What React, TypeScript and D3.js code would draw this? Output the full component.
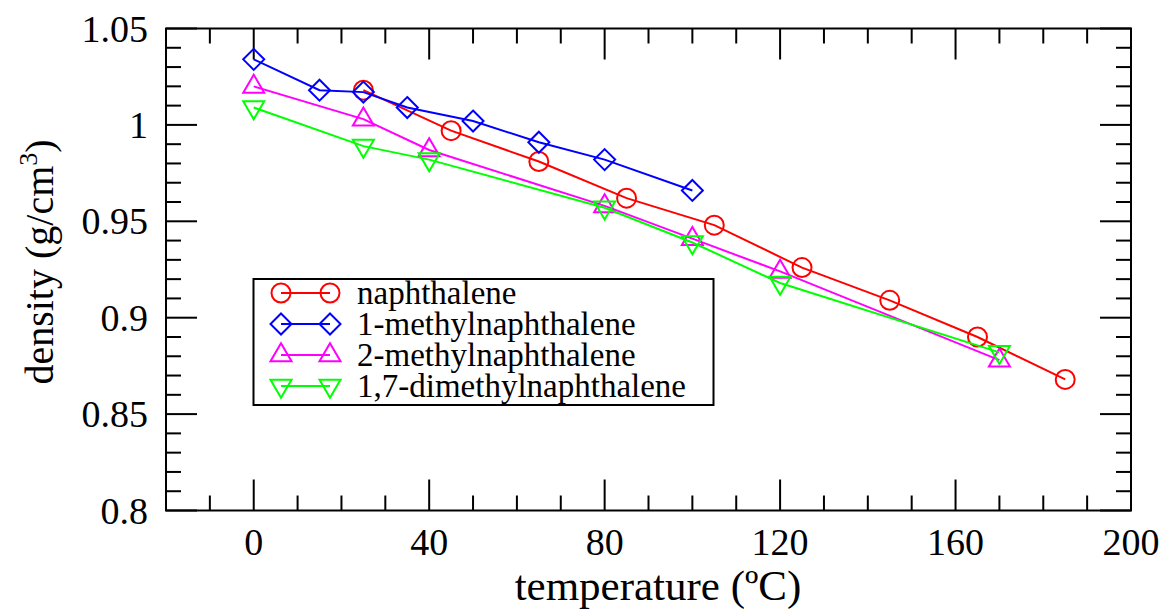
import React from "react";
import * as d3 from "d3";

// Density (g/cm³) of naphthalene and methylated naphthalenes vs temperature (°C)
const naphT = [25, 45, 65, 85, 105, 125, 145, 165, 185];
const naphD = [1.018, 0.997, 0.981, 0.962, 0.948, 0.926, 0.909, 0.890, 0.868];

const mn1T = [0, 15, 25, 35, 50, 65, 80, 100];
const mn1D = [1.034, 1.018, 1.017, 1.009, 1.002, 0.991, 0.982, 0.966];

const mn2T = [0, 25, 40, 80, 100, 120, 170];
const mn2D = [1.020, 1.003, 0.987, 0.958, 0.941, 0.924, 0.878];

const dmn17T = [0, 25, 40, 80, 100, 120, 170];
const dmn17D = [1.009, 0.989, 0.982, 0.957, 0.939, 0.918, 0.882];

const seriesNames = ["naphthalene", "1-methylnaphthalene", "2-methylnaphthalene", "1,7-dimethylnaphthalene"];
const seriesColors = ["#ff0000", "#0000ff", "#ff00ff", "#00ff00"];
const seriesSymbols = ["circle", "diamond", "triUp", "triDown"];

const xMajorTicks = [0, 40, 80, 120, 160, 200];
const yMajorTicks = [0.8, 0.85, 0.9, 0.95, 1, 1.05];
const yTickLabels = ["0.8", "0.85", "0.9", "0.95", "1", "1.05"];

const W = 1166;
const H = 609;
const plot = { left: 166, right: 1131, top: 28.5, bottom: 510.5 };
const FONT = '"Liberation Serif", "DejaVu Serif", serif';

const x = d3.scaleLinear().domain([-20, 200]).range([plot.left, plot.right]);
const y = d3.scaleLinear().domain([0.8, 1.05]).range([plot.bottom, plot.top]);

const xMinorTicks = d3.range(-10, 200, 10).filter((v) => !xMajorTicks.includes(v));
const yMinorTicks = d3.range(81, 105, 1).map((v) => v / 100).filter((v) => Math.round(v * 100) % 5 !== 0);

function Marker({ kind, cx, cy, color }: { kind: string; cx: number; cy: number; color: string }) {
  const common = { fill: "none", stroke: color, strokeWidth: 2 };
  if (kind === "circle") return <circle cx={cx} cy={cy} r={9.5} {...common} />;
  if (kind === "diamond") {
    const r = 10.5;
    return <path d={`M${cx},${cy - r}L${cx + r},${cy}L${cx},${cy + r}L${cx - r},${cy}Z`} {...common} />;
  }
  const hw = 10.5;
  const hh = 9;
  if (kind === "triUp") {
    return <path d={`M${cx},${cy - hh * 1.3}L${cx + hw},${cy + hh * 0.7}L${cx - hw},${cy + hh * 0.7}Z`} {...common} />;
  }
  return <path d={`M${cx},${cy + hh * 1.3}L${cx + hw},${cy - hh * 0.7}L${cx - hw},${cy - hh * 0.7}Z`} {...common} />;
}

export default function App() {
  const series = [
    { t: naphT, d: naphD },
    { t: mn1T, d: mn1D },
    { t: mn2T, d: mn2D },
    { t: dmn17T, d: dmn17D },
  ];
  const line = d3
    .line<[number, number]>()
    .x((p) => x(p[0]))
    .y((p) => y(p[1]));

  const major = 31;
  const minor = 15;

  const legend = { left: 253.5, top: 279, right: 713.5, bottom: 405 };
  const legendRows = [293, 324, 355, 386];

  return (
    <svg
      width={W}
      height={H}
      style={{ position: "absolute", left: 0, top: 0, background: "#fff", fontFamily: FONT }}
    >
      <rect x={0} y={0} width={W} height={H} fill="#fff" />

      {/* ticks on all four sides, pointing inward */}
      <g stroke="#000" strokeWidth={2}>
        {xMajorTicks.map((v) => (
          <g key={`xM${v}`}>
            <line x1={x(v)} x2={x(v)} y1={plot.bottom} y2={plot.bottom - major} />
            <line x1={x(v)} x2={x(v)} y1={plot.top} y2={plot.top + major} />
          </g>
        ))}
        {xMinorTicks.map((v) => (
          <g key={`xm${v}`}>
            <line x1={x(v)} x2={x(v)} y1={plot.bottom} y2={plot.bottom - minor} />
            <line x1={x(v)} x2={x(v)} y1={plot.top} y2={plot.top + minor} />
          </g>
        ))}
        {yMajorTicks.map((v) => (
          <g key={`yM${v}`}>
            <line x1={plot.left} x2={plot.left + major} y1={y(v)} y2={y(v)} />
            <line x1={plot.right} x2={plot.right - major} y1={y(v)} y2={y(v)} />
          </g>
        ))}
        {yMinorTicks.map((v) => (
          <g key={`ym${v}`}>
            <line x1={plot.left} x2={plot.left + minor} y1={y(v)} y2={y(v)} />
            <line x1={plot.right} x2={plot.right - minor} y1={y(v)} y2={y(v)} />
          </g>
        ))}
      </g>

      {/* data series */}
      {series.map((s, i) => {
        const pts = s.t.map((t, j) => [t, s.d[j]] as [number, number]);
        return (
          <g key={seriesNames[i]}>
            <path d={line(pts) || ""} fill="none" stroke={seriesColors[i]} strokeWidth={2} />
            {pts.map((p, j) => (
              <Marker key={j} kind={seriesSymbols[i]} cx={x(p[0])} cy={y(p[1])} color={seriesColors[i]} />
            ))}
          </g>
        );
      })}

      {/* frame */}
      <rect
        x={plot.left}
        y={plot.top}
        width={plot.right - plot.left}
        height={plot.bottom - plot.top}
        fill="none"
        stroke="#000"
        strokeWidth={2}
      />

      {/* tick labels */}
      <g fontSize={38} fill="#000">
        {xMajorTicks.map((v) => (
          <text key={`xl${v}`} x={x(v)} y={555} textAnchor="middle">
            {v}
          </text>
        ))}
        {yMajorTicks.map((v, i) => (
          <text key={`yl${v}`} x={148} y={y(v) + 13} textAnchor="end">
            {yTickLabels[i]}
          </text>
        ))}
      </g>

      {/* axis titles */}
      <text x={658} y={600} fontSize={43} textAnchor="middle" fill="#000">
        temperature (ºC)
      </text>
      <text transform="translate(53,262) rotate(-90)" fontSize={40} textAnchor="middle" fill="#000">
        density (g/cm
        <tspan fontSize={26} dy={-16}>
          3
        </tspan>
        <tspan dy={16}>)</tspan>
      </text>

      {/* legend */}
      <rect
        x={legend.left}
        y={legend.top}
        width={legend.right - legend.left}
        height={legend.bottom - legend.top}
        fill="#fff"
        stroke="#000"
        strokeWidth={2}
      />
      {seriesNames.map((name, i) => (
        <g key={`lg${name}`}>
          <line x1={281} x2={330} y1={legendRows[i]} y2={legendRows[i]} stroke={seriesColors[i]} strokeWidth={2} />
          <Marker kind={seriesSymbols[i]} cx={281} cy={legendRows[i]} color={seriesColors[i]} />
          <Marker kind={seriesSymbols[i]} cx={330} cy={legendRows[i]} color={seriesColors[i]} />
          <text x={357} y={legendRows[i] + 11} fontSize={33} fill="#000">
            {name}
          </text>
        </g>
      ))}
    </svg>
  );
}
